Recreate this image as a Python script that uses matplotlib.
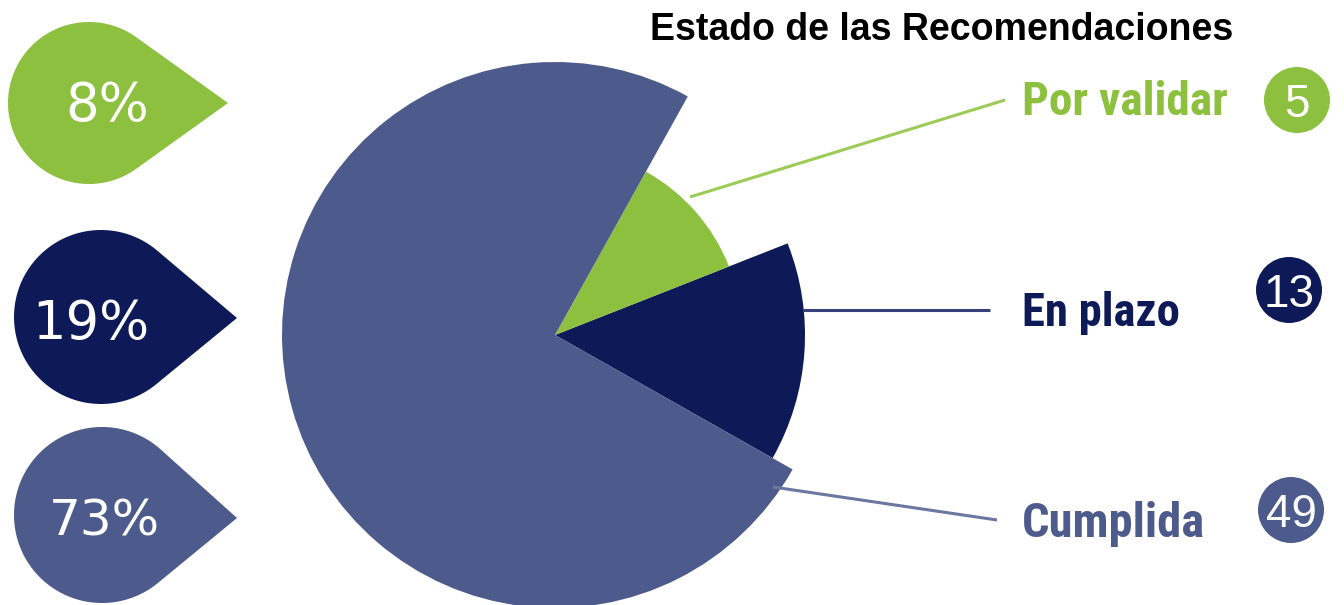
import numpy as np
import matplotlib
matplotlib.use("Agg")
import matplotlib.pyplot as plt
from matplotlib.patches import Polygon, Circle
from matplotlib import font_manager

# ---------------- data ----------------
categories = ["Por validar", "En plazo", "Cumplida"]
counts = [5, 13, 49]
percent_labels = ["8%", "19%", "73%"]
# slice sizes as drawn in the infographic (degrees of the circle)
slice_degrees_drawn = [39.4, 51.0, 269.6]
# radius of each slice as drawn
slice_radius_drawn = [187, 250, 273]
title = "Estado de las Recomendaciones"

# ---------------- style ----------------
colors = ["#8DC03F", "#0D1A57", "#4C5B8B"]
line_colors = ["#9CCB57", "#36417A", "#6B77A1"]

available = {f.name for f in font_manager.fontManager.ttflist}
narrow_candidates = ["Roboto Condensed", "Liberation Sans Narrow",
                     "Open Sans Condensed", "Roboto"]
label_family = [f for f in narrow_candidates if f in available] + ["DejaVu Sans"]

W, H = 1344, 605
fig = plt.figure(figsize=(W / 100, H / 100), dpi=100)
ax = fig.add_axes([0, 0, 1, 1])

def Y(y):  # convert from top-down pixel position to axes coordinates
    return H - y

center = (555, Y(335))
start_angle = -29.5

# pie drawn counter-clockwise: En plazo, Por validar, Cumplida
order = [1, 0, 2]
wedges, _ = ax.pie([slice_degrees_drawn[i] for i in order],
                   colors=[colors[i] for i in order],
                   startangle=start_angle, counterclock=True,
                   center=center, radius=1.0,
                   wedgeprops=dict(linewidth=0))
for w, i in zip(wedges, order):
    w.set_radius(slice_radius_drawn[i])

# ---------------- leader lines and labels ----------------
line_pts = [((690, 197), (1005, 100)),
            ((803, 310), (990, 310)),
            ((773, 487), (997, 520))]
label_baseline = [115, 326, 537]
label_widths = [206, 158, 183]
count_centers = [(1297, 100), (1289, 290), (1291, 510)]
count_r = 33

fig.canvas.draw()
renderer = fig.canvas.get_renderer()
for i in range(3):
    (x0, y0), (x1, y1) = line_pts[i]
    ax.plot([x0, x1], [Y(y0), Y(y1)], color=line_colors[i], lw=2.2,
            solid_capstyle="butt", zorder=1)
    t = ax.text(1022, Y(label_baseline[i]), categories[i], color=colors[i],
                fontsize=34, fontweight="bold", fontstretch="condensed",
                family=label_family, ha="left", va="baseline")
    # fit the label to the width it has in the reference
    bb = t.get_window_extent(renderer)
    t.set_fontsize(min(38, 34 * label_widths[i] / bb.width))
    cx, cy = count_centers[i]
    ax.add_patch(Circle((cx, Y(cy)), count_r, color=colors[i], lw=0))
    ax.text(cx, Y(cy), str(counts[i]), color="white", fontsize=33,
            family=["Liberation Sans", "DejaVu Sans"],
            ha="center", va="center_baseline")

# ---------------- teardrop percentage badges ----------------
def teardrop(cx, cy, r, tx, ty, n=200):
    d = np.hypot(tx - cx, ty - cy)
    base = np.arctan2(ty - cy, tx - cx)
    th = np.arccos(r / d)
    a = np.linspace(base + th, base + 2 * np.pi - th, n)
    pts = np.column_stack([cx + r * np.cos(a), cy + r * np.sin(a)])
    pts = np.vstack([pts, [tx, ty]])
    return pts

badges = [(89, 103, 81, 228, 103),
          (101, 317, 87, 237, 318),
          (102, 515, 88, 237, 518)]
badge_text_pos = [(107, 100), (91, 318), (104, 517)]
badge_font = [38, 38, 36]
for i in range(3):
    cx, cy, r, tx, ty = badges[i]
    ax.add_patch(Polygon(teardrop(cx, Y(cy), r, tx, Y(ty)), closed=True,
                         color=colors[i], lw=0))
    bx, by = badge_text_pos[i]
    ax.text(bx, Y(by), percent_labels[i], color="white", fontsize=badge_font[i],
            family=["DejaVu Sans"], ha="center", va="center_baseline")

# ---------------- title ----------------
ax.text(942, Y(26), title, fontsize=27, fontweight="bold",
        family=["Liberation Sans", "DejaVu Sans"], color="black",
        ha="center", va="center_baseline")

ax.set_xlim(0, W)
ax.set_ylim(0, H)
ax.set_aspect("equal")
ax.axis("off")
fig.savefig("out.png", dpi=100, facecolor="white")
